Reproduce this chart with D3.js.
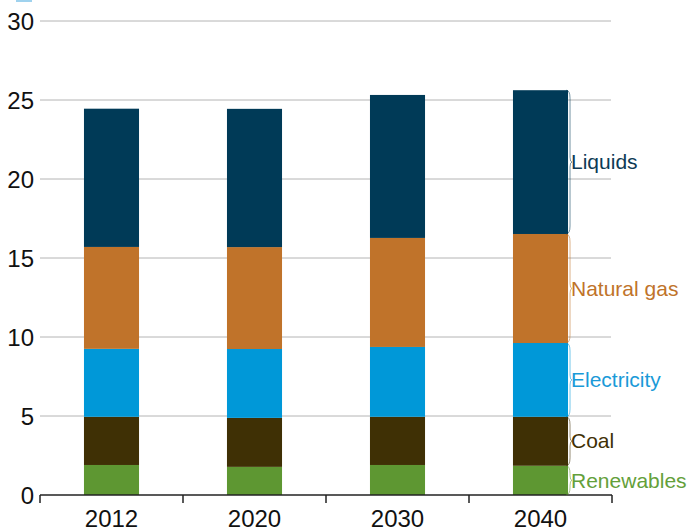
<!DOCTYPE html>
<html>
<head>
<meta charset="utf-8">
<script src="https://cdn.jsdelivr.net/npm/d3@7"></script>
<style>
  body { margin: 0; background: #fff; }
  svg { display: block; font-family: "Liberation Sans", Arial, sans-serif; }
</style>
</head>
<body>
<div id="chart"></div>
<script>
// data (stacked, bottom to top)
const years = ["2012", "2020", "2030", "2040"];
const seriesNames = ["Renewables", "Coal", "Electricity", "Natural gas", "Liquids"];
const renewables = [1.9, 1.78, 1.9, 1.85];
const coal = [3.05, 3.1, 3.05, 3.1];
const electricity = [4.3, 4.36, 4.42, 4.67];
const naturalGas = [6.45, 6.45, 6.9, 6.9];
const liquids = [8.75, 8.75, 9.05, 9.1];
const yTicks = [0, 5, 10, 15, 20, 25, 30];

const colors = ["#5e9732", "#3f3005", "#0098d8", "#c0732a", "#003a57"];
const labelColors = ["#64a03a", "#3f3005", "#1a9ad8", "#c0732a", "#0d3a55"];

const values = [renewables, coal, electricity, naturalGas, liquids];
const rows = years.map((y, i) => {
  const r = { year: y };
  seriesNames.forEach((s, k) => { r[s] = values[k][i]; });
  return r;
});
const stacked = d3.stack().keys(seriesNames)(rows);

const W = 692, H = 529;
const svg = d3.select("#chart").append("svg").attr("width", W).attr("height", H);

const x = d3.scaleBand().domain(years).range([40, 612]).paddingInner(0.615).paddingOuter(0.3075);
const xTickScale = d3.scaleBand().domain(years).range([40, 612]);
const y = d3.scaleLinear().domain([0, 30]).range([495, 21]);

// small cut-off mark at top left
svg.append("rect").attr("x", 16).attr("y", 0).attr("width", 16).attr("height", 2).attr("fill", "#9fd2ee");

// gridlines
svg.append("g").selectAll("line")
  .data(yTicks.filter(d => d > 0))
  .enter().append("line")
  .attr("x1", 40).attr("x2", 611)
  .attr("y1", d => y(d)).attr("y2", d => y(d))
  .attr("stroke", "#b4b4b4").attr("stroke-width", 1);

// y tick labels
svg.append("g").selectAll("text")
  .data(yTicks)
  .enter().append("text")
  .attr("x", 34).attr("y", d => y(d))
  .attr("dy", "0.36em")
  .attr("text-anchor", "end")
  .style("font-size", "24px")
  .attr("fill", "#111")
  .text(d => d);

// bars
svg.append("g").selectAll("g")
  .data(stacked)
  .enter().append("g")
  .attr("fill", (d, i) => colors[i])
  .selectAll("rect")
  .data(d => d)
  .enter().append("rect")
  .attr("x", d => x(d.data.year))
  .attr("width", x.bandwidth())
  .attr("y", d => y(d[1]))
  .attr("height", d => y(d[0]) - y(d[1]));

// x axis
const xAxis = svg.append("g").attr("transform", "translate(0,495)");
xAxis.append("line").attr("x1", 40).attr("x2", 612).attr("y1", 0).attr("y2", 0)
  .attr("stroke", "#222").attr("stroke-width", 1.5);
const bounds = years.map(d => xTickScale(d)).concat([xTickScale.range()[1]]);
xAxis.selectAll("line.tick").data(bounds).enter().append("line")
  .attr("class", "tick")
  .attr("x1", d => d).attr("x2", d => d).attr("y1", 0).attr("y2", 8)
  .attr("stroke", "#222").attr("stroke-width", 1.5);
xAxis.selectAll("text").data(years).enter().append("text")
  .attr("x", d => x(d) + x.bandwidth() / 2)
  .attr("y", 32)
  .attr("text-anchor", "middle")
  .style("font-size", "24px")
  .attr("fill", "#111")
  .text(d => d);

// braces and labels next to the last bar
const last = years.length - 1;
const bx = x(years[last]) + x.bandwidth();
const labels = svg.append("g");
stacked.forEach((s, i) => {
  const top = y(s[last][1]), bot = y(s[last][0]), mid = (top + bot) / 2;
  const path = d3.path();
  path.moveTo(bx - 2, top);
  path.quadraticCurveTo(bx + 2, top, bx + 2, top + 8);
  path.lineTo(bx + 2, mid - 5);
  path.quadraticCurveTo(bx + 2, mid, bx + 4, mid);
  path.quadraticCurveTo(bx + 2, mid, bx + 2, mid + 5);
  path.lineTo(bx + 2, bot - 8);
  path.quadraticCurveTo(bx + 2, bot, bx - 2, bot);
  labels.append("path").attr("d", path.toString())
    .attr("fill", "none").attr("stroke", colors[i]).attr("stroke-opacity", 0.55).attr("stroke-width", 1);
  labels.append("text")
    .attr("x", bx + 3).attr("y", mid)
    .attr("dy", "0.34em")
    .style("font-size", "21px")
    .attr("fill", labelColors[i])
    .text(seriesNames[i]);
});
</script>
</body>
</html>
